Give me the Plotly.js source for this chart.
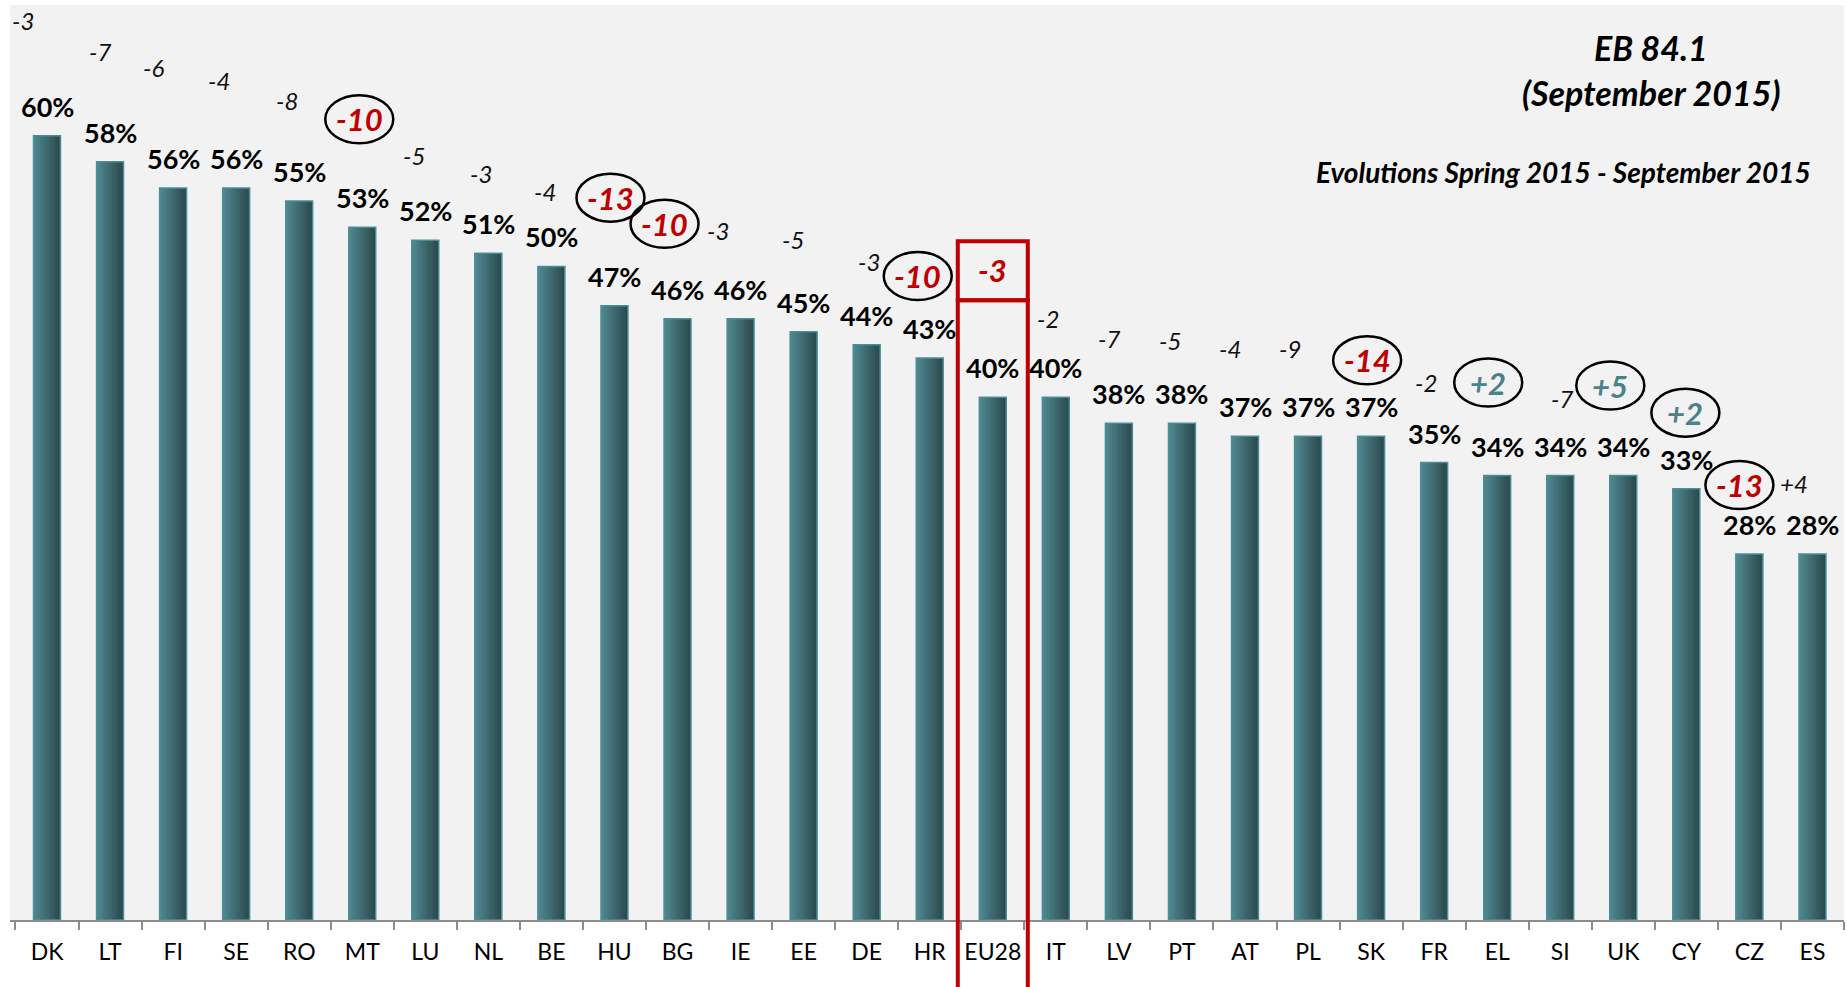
<!DOCTYPE html>
<html>
<head>
<meta charset="utf-8">
<script src="https://cdn.plot.ly/plotly-3.0.1.min.js"></script>
<style>html,body{margin:0;padding:0;background:#fff;}#chart{width:1847px;height:987px;}</style>
</head>
<body>
<div id="chart"></div>
<script>
// ---- data ----
const countries = ["DK","LT","FI","SE","RO","MT","LU","NL","BE","HU","BG","IE","EE","DE","HR","EU28","IT","LV","PT","AT","PL","SK","FR","EL","SI","UK","CY","CZ","ES"];
const values = [60,58,56,56,55,53,52,51,50,47,46,46,45,44,43,40,40,38,38,37,37,37,35,34,34,34,33,28,28];
const changes = [-3,-7,-6,-4,-8,-10,-5,-3,-4,-13,-10,-3,-5,-3,-10,-3,-2,-7,-5,-4,-9,-14,-2,2,-7,5,2,-13,4];
const circled = ["MT","HU","BG","HR","SK","EL","UK","CY","CZ"];
const average = "EU28";
const titleLines = ["EB 84.1", "(September 2015)"];
const subtitle = "Evolutions Spring 2015 - September 2015";

// ---- label placement (pixels relative to bar top) ----
const changeLabelOffsets = [[-24,115],[-10,110],[-20,121],[-17,108],[-12,101],[-3,108],[-11,85],[-7,80],[-6,75],[-4,108],[-13,95],[-23,88],[-11,92],[2,83],[-12,82],[0,127],[-8,79],[-10,85],[-12,83],[-15,88],[-18,88],[-4,76],[-8,80],[-9,93],[2,77],[-13,90],[-1,76],[-10,69],[-18,71]];

const FONT = "Lato, 'Open Sans', sans-serif";
const yMax = 70;
const barW = 0.427;
const N = 12;
const light = [80,135,143], dark = [44,74,78];

const traces = [];
for (let i = 0; i < N; i++) {
  const f = i / (N - 1);
  const c = dark.map((d, k) => Math.round(d + (light[k] - d) * f));
  const w = barW * (N - i) / N;
  traces.push({
    type: "bar", x: countries, y: values,
    width: w, offset: -barW / 2,
    marker: {color: `rgb(${c[0]},${c[1]},${c[2]})`, line: {width: 0}},
    hoverinfo: "skip", showlegend: false
  });
}
traces.push({
  type: "bar", x: countries, y: values, width: barW, offset: -barW / 2,
  marker: {color: "rgba(0,0,0,0)", line: {color: "#4a8e9a", width: 1.5}},
  hoverinfo: "skip", showlegend: false
});

const annotations = [];
const shapes = [];
countries.forEach((c, i) => {
  annotations.push({
    x: c, y: values[i], xref: "x", yref: "y", text: values[i] + "%",
    showarrow: false, xanchor: "center", yanchor: "bottom", yshift: 11,
    font: {family: FONT, size: 27, color: "#000", weight: "bold"}
  });
  const ch = changes[i];
  const txt = (ch > 0 ? "+" : "") + ch;
  const [dx, dy] = changeLabelOffsets[i];
  if (c === average) {
    annotations.push({
      x: c, y: values[i], xref: "x", yref: "y", text: txt, showarrow: false,
      xanchor: "center", yanchor: "middle", xshift: dx, yshift: dy,
      font: {family: FONT, size: 31, color: "#c00000", weight: "bold", style: "italic"}
    });
    shapes.push({type: "rect", xref: "x", yref: "y", xsizemode: "pixel", ysizemode: "pixel",
      xanchor: i, yanchor: values[i], x0: -35, x1: 35, y0: 97, y1: 156,
      line: {color: "#c00000", width: 4}, fillcolor: "rgba(0,0,0,0)"});
    shapes.push({type: "rect", xref: "x", yref: "paper", xsizemode: "pixel", ysizemode: "pixel",
      xanchor: i, yanchor: values[i] / yMax, x0: -35, x1: 35, y0: -640, y1: 97,
      line: {color: "#c00000", width: 4}, fillcolor: "rgba(0,0,0,0)"});
  } else if (circled.includes(c)) {
    annotations.push({
      x: c, y: values[i], xref: "x", yref: "y", text: txt, showarrow: false,
      xanchor: "center", yanchor: "middle", xshift: dx, yshift: dy,
      font: {family: FONT, size: 31, color: ch > 0 ? "#4b8189" : "#c00000", weight: "bold", style: "italic"}
    });
    shapes.push({type: "circle", xref: "x", yref: "y", xsizemode: "pixel", ysizemode: "pixel",
      xanchor: i, yanchor: values[i], x0: dx - 34, x1: dx + 34, y0: dy - 24, y1: dy + 24,
      line: {color: "#000", width: 2.5}, fillcolor: "rgba(0,0,0,0)"});
  } else {
    annotations.push({
      x: c, y: values[i], xref: "x", yref: "y", text: txt, showarrow: false,
      xanchor: "center", yanchor: "middle", xshift: dx, yshift: dy,
      font: {family: FONT, size: 24, color: "#111", style: "italic"}
    });
  }
});

annotations.push({xref: "paper", yref: "paper", x: 0.8948, y: 0.954, text: titleLines[0], showarrow: false,
  xanchor: "center", yanchor: "middle", font: {family: FONT, size: 34, color: "#000", weight: "bold", style: "italic"}});
annotations.push({xref: "paper", yref: "paper", x: 0.8948, y: 0.904, text: titleLines[1], showarrow: false,
  xanchor: "center", yanchor: "middle", font: {family: FONT, size: 34, color: "#000", weight: "bold", style: "italic"}});
annotations.push({xref: "paper", yref: "paper", x: 0.847, y: 0.8175, text: subtitle, showarrow: false,
  xanchor: "center", yanchor: "middle", font: {family: FONT, size: 28, color: "#000", weight: "bold", style: "italic"}});

const layout = {
  width: 1847, height: 987,
  margin: {l: 10, r: 3, t: 5, b: 67, pad: 0},
  paper_bgcolor: "#ffffff", plot_bgcolor: "#f2f2f2",
  barmode: "overlay",
  showlegend: false,
  xaxis: {type: "category", categoryorder: "array", categoryarray: countries,
    showline: true, linecolor: "#8c8c8c", linewidth: 2,
    ticks: "outside", tickson: "boundaries", ticklen: 8, tickwidth: 2, tickcolor: "#8c8c8c",
    tickangle: 0,
    tickfont: {family: FONT, size: 23, color: "#000"}, ticklabelstandoff: 10,
    showgrid: false, zeroline: false, fixedrange: true},
  yaxis: {range: [0, yMax], showgrid: false, zeroline: false, showticklabels: false,
    showline: false, ticks: "", fixedrange: true},
  annotations: annotations,
  shapes: shapes
};

Plotly.newPlot("chart", traces, layout, {displayModeBar: false, staticPlot: true});
</script>
</body>
</html>
